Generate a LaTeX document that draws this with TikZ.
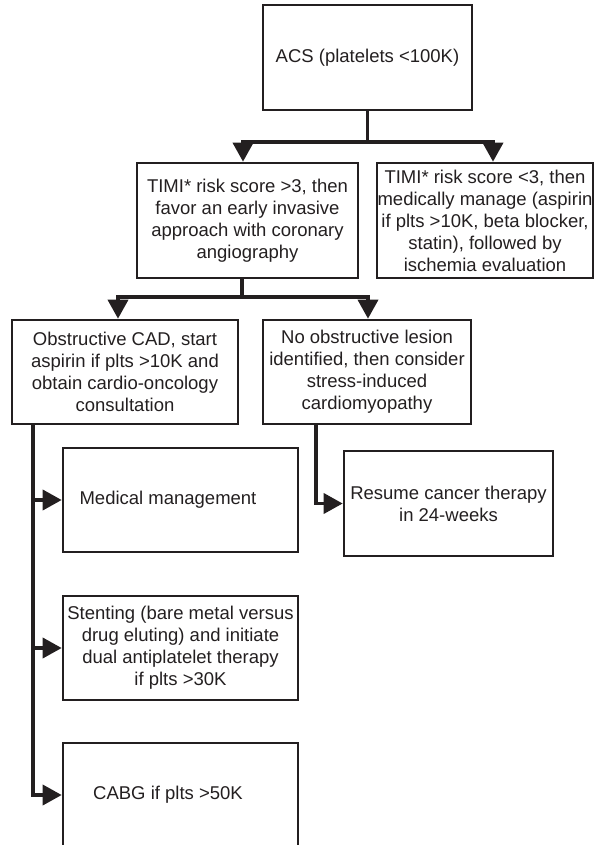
\documentclass[tikz,border=0pt]{standalone}
\usepackage{fontspec}
\setmainfont{Liberation Sans}
\usetikzlibrary{arrows.meta}
\definecolor{ink}{HTML}{231F20}
\begin{document}
\begin{tikzpicture}[x=1pt,y=1pt,
  box/.style={draw=ink, line width=2.6pt, rectangle, align=center, inner sep=0pt,
    text=ink, font=\fontsize{18.5}{22}\selectfont},
  lbl/.style={text=ink, font=\fontsize{18.5}{22}\selectfont, inner sep=0pt},
  conn/.style={draw=ink, line width=3.6pt},
  arr/.style={conn, -{Triangle[length=19pt,width=20pt]}}]
\useasboundingbox (0,0) rectangle (594,-845);
% boxes
\node[box, minimum width=209pt, minimum height=105pt] (acs) at (367.5,-57.5) {ACS (platelets <100K)};
\node[box, minimum width=221pt, minimum height=115pt] (timihigh) at (247.5,-220.5)
  {TIMI* risk score >3, then\\favor an early invasive\\approach with coronary\\angiography};
\node[box, minimum width=216pt, minimum height=115pt] (timilow) at (485,-220.5)
  {TIMI* risk score <3, then\\medically manage (aspirin\\if plts >10K, beta blocker,\\statin), followed by\\ischemia evaluation};
\node[box, minimum width=226pt, minimum height=104pt] (obst) at (125,-372)
  {Obstructive CAD, start\\aspirin if plts >10K and\\obtain cardio-oncology\\consultation};
\node[box, minimum width=208pt, minimum height=104pt] (noobs) at (367,-372)
  {No obstructive lesion\\identified, then consider\\stress-induced\\cardiomyopathy};
\node[box, minimum width=235pt, minimum height=104pt] (med) at (180.5,-500) {};
\node[lbl] (medtxt) at (168,-500) {Medical management};
\node[box, minimum width=235pt, minimum height=104pt] (sten) at (180.5,-648)
  {Stenting (bare metal versus\\drug eluting) and initiate\\dual antiplatelet therapy\\if plts >30K};
\node[box, minimum width=235pt, minimum height=104pt] (cabg) at (180.5,-795) {};
\node[lbl] (cabgtxt) at (168,-795) {CABG if plts >50K};
\node[box, minimum width=209pt, minimum height=105pt] (resume) at (448.5,-503.5)
  {Resume cancer therapy\\in 24-weeks};
% connectors
\coordinate (j1) at (367.5,-142);
\draw[conn] (acs.south) -- (j1);
\draw[arr] (j1) -| ([xshift=-4.5pt]timihigh.north);
\draw[arr] (j1) -| ([xshift=8pt]timilow.north);
\coordinate (j2) at (242,-297);
\draw[conn] ([xshift=-5.5pt]timihigh.south) -- (j2);
\draw[arr] (j2) -| ([xshift=-7pt]obst.north);
\draw[arr] (j2) -| ([xshift=1pt]noobs.north);
\coordinate (ob) at ([xshift=-92pt]obst.south);
\draw[arr] (ob) |- (med.west);
\draw[arr] (ob) |- (sten.west);
\draw[arr] (ob) |- (cabg.west);
\draw[arr] ([xshift=-51pt]noobs.south) |- (resume.west);
\end{tikzpicture}
\end{document}
